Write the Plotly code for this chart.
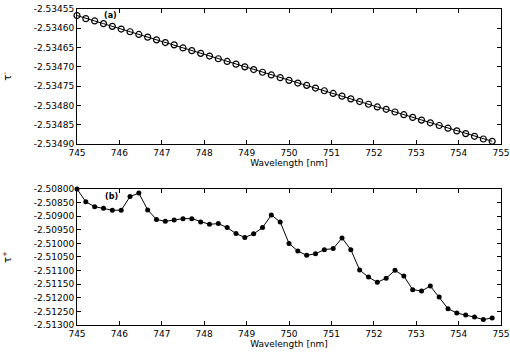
import plotly.graph_objects as go

wavelength = [745.000, 745.208, 745.417, 745.625, 745.833, 746.042, 746.250, 746.458,
              746.667, 746.875, 747.083, 747.292, 747.500, 747.708, 747.917, 748.125,
              748.333, 748.542, 748.750, 748.958, 749.167, 749.375, 749.583, 749.792,
              750.000, 750.208, 750.417, 750.625, 750.833, 751.042, 751.250, 751.458,
              751.667, 751.875, 752.083, 752.292, 752.500, 752.708, 752.917, 753.125,
              753.333, 753.542, 753.750, 753.958, 754.167, 754.375, 754.583, 754.792]

tau_minus = [-2.534567, -2.534575, -2.534581, -2.534588, -2.534595, -2.534602, -2.534609, -2.534616,
             -2.534623, -2.534630, -2.534637, -2.534643, -2.534651, -2.534658, -2.534665, -2.534672,
             -2.534679, -2.534686, -2.534693, -2.534700, -2.534707, -2.534714, -2.534721, -2.534728,
             -2.534735, -2.534742, -2.534748, -2.534755, -2.534762, -2.534769, -2.534776, -2.534783,
             -2.534790, -2.534797, -2.534804, -2.534810, -2.534817, -2.534824, -2.534831, -2.534838,
             -2.534845, -2.534852, -2.534859, -2.534866, -2.534873, -2.534880, -2.534887, -2.534893]

tau_plus = [-2.50800, -2.50847, -2.50865, -2.50871, -2.50878, -2.50878, -2.50828, -2.50815,
            -2.50877, -2.50912, -2.50919, -2.50914, -2.50909, -2.50909, -2.50921, -2.50930,
            -2.50927, -2.50942, -2.50964, -2.50978, -2.50965, -2.50942, -2.50896, -2.50921,
            -2.51000, -2.51028, -2.51044, -2.51038, -2.51023, -2.51019, -2.50980, -2.51023,
            -2.51098, -2.51124, -2.51143, -2.51128, -2.51099, -2.51120, -2.51170, -2.51175,
            -2.51157, -2.51197, -2.51240, -2.51256, -2.51263, -2.51271, -2.51280, -2.51274]

x_ticks = [745, 746, 747, 748, 749, 750, 751, 752, 753, 754, 755]
y1_ticks = [-2.53455, -2.53460, -2.53465, -2.53470, -2.53475, -2.53480, -2.53485, -2.53490]
y1_labels = ["-2.53455", "-2.53460", "-2.53465", "-2.53470", "-2.53475", "-2.53480", "-2.53485", "-2.53490"]
y2_ticks = [-2.50800, -2.50850, -2.50900, -2.50950, -2.51000, -2.51050, -2.51100,
            -2.51150, -2.51200, -2.51250, -2.51300]
y2_labels = ["-2.50800", "-2.50850", "-2.50900", "-2.50950", "-2.51000", "-2.51050", "-2.51100",
             "-2.51150", "-2.51200", "-2.51250", "-2.51300"]

FONT = "DejaVu Sans"

fig = go.Figure()
fig.add_trace(go.Scatter(
    x=wavelength, y=tau_minus, mode="lines+markers", xaxis="x", yaxis="y",
    line=dict(color="black", width=1), cliponaxis=False,
    marker=dict(symbol="circle-open", size=6, color="black", line=dict(width=1.2)),
    showlegend=False))
fig.add_trace(go.Scatter(
    x=wavelength, y=tau_plus, mode="lines+markers", xaxis="x2", yaxis="y2",
    line=dict(color="black", width=1), cliponaxis=False,
    marker=dict(symbol="circle", size=5, color="black"),
    showlegend=False))

axis_common = dict(showline=True, linecolor="black", linewidth=1, mirror="ticks",
                   ticks="inside", ticklen=4, tickcolor="black", tickwidth=1,
                   showgrid=False, zeroline=False, automargin=False,
                   ticklabeloverflow="allow",
                   tickfont=dict(family=FONT, size=9, color="black"))

fig.update_layout(
    width=510, height=362,
    margin=dict(l=77, r=9, t=9, b=37),
    paper_bgcolor="white", plot_bgcolor="white",
    font=dict(family=FONT, size=9, color="black"),
    xaxis=dict(domain=[0, 1], anchor="y", range=[745, 755], tickvals=x_ticks,
               title=dict(text="Wavelength [nm]", standoff=2, font=dict(family=FONT, size=9)),
               **axis_common),
    yaxis=dict(domain=[0.5728, 1], anchor="x", range=[-2.5349, -2.53455],
               tickvals=y1_ticks, ticktext=y1_labels,
               title=dict(text="τ<sup>-</sup>", standoff=20, font=dict(family=FONT, size=10)),
               **axis_common),
    xaxis2=dict(domain=[0, 1], anchor="y2", range=[745, 755], tickvals=x_ticks,
                title=dict(text="Wavelength [nm]", standoff=2, font=dict(family=FONT, size=9)),
                **axis_common),
    yaxis2=dict(domain=[0, 0.4304], anchor="x2", range=[-2.513, -2.508],
                tickvals=y2_ticks, ticktext=y2_labels,
                title=dict(text="τ<sup>+</sup>", standoff=20, font=dict(family=FONT, size=10)),
                **axis_common),
    annotations=[
        dict(text="<b>(a)</b>", x=745.8, y=-2.534568, xref="x", yref="y",
             showarrow=False, font=dict(family=FONT, size=8, color="black")),
        dict(text="<b>(b)</b>", x=745.82, y=-2.50826, xref="x2", yref="y2",
             showarrow=False, font=dict(family=FONT, size=8, color="black")),
    ],
)

# remove the browser's default page margin so the figure starts at the window corner
fig.write_html("out.html", config={"displayModeBar": False},
               post_script="document.body.style.margin='0';")
